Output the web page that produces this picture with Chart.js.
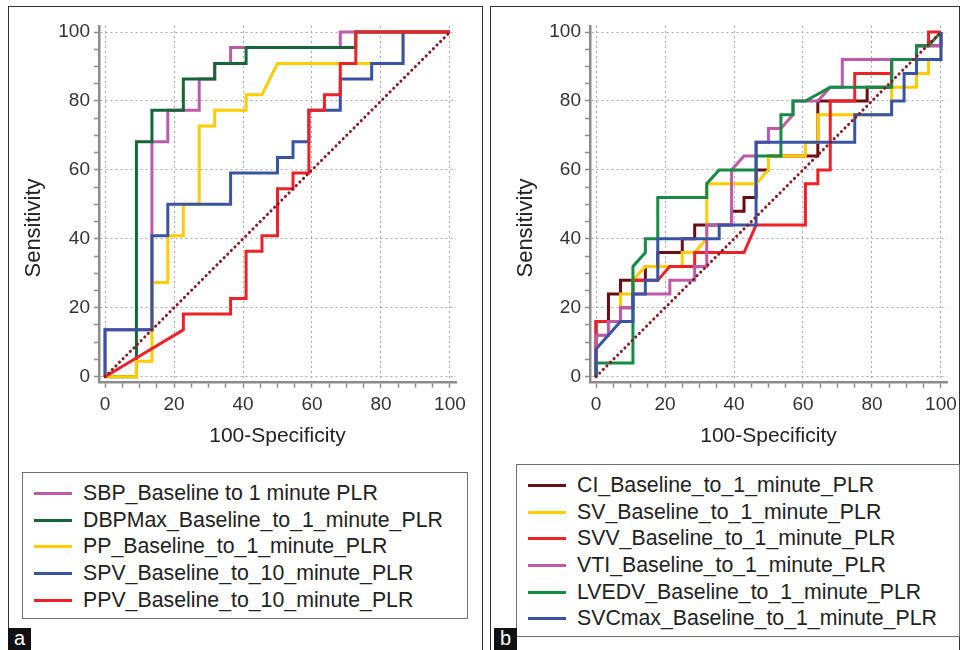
<!DOCTYPE html>
<html>
<head>
<meta charset="utf-8">
<script src="https://cdn.jsdelivr.net/npm/chart.js@4.4.1/dist/chart.umd.min.js"></script>
<style>
  body { margin: 0; background: #fff; font-family: 'Liberation Sans', Arial, sans-serif; }
  #page { position: relative; width: 964px; height: 650px; overflow: hidden; }
  .panel { position: absolute; top: 0; height: 460px; }
  .legend { position: absolute; border: 1px solid #6f6f6f; box-sizing: border-box; padding-top: 7px; color: #222; font-size: 21.3px; }
  .legend div { height: 26.7px; line-height: 26.7px; white-space: nowrap; position: relative; }
  .legend span { position: absolute; left: 11px; top: 12px; width: 38px; height: 3px; }
  .legend b { font-weight: normal; position: absolute; }
  .tag { position: absolute; background: #111; color: #fff; font-size: 20px; width: 23px; height: 22px; line-height: 20px; text-align: center; }
  .frame { position: absolute; border: 1px solid #333; box-sizing: border-box; }
  .ytitle { position: absolute; width: 200px; height: 26px; line-height: 26px; text-align: center; font-size: 22px; color: #222; transform: rotate(-90deg); }
</style>
</head>
<body>
<div id="page">
  <div class="frame" style="left:8px; top:6px; width:475px; height:660px;"></div>
  <div class="frame" style="left:490px; top:6px; width:470px; height:660px;"></div>
  <div class="panel" style="left:0; width:480px;"><canvas id="chartA" width="480" height="460"></canvas></div>
  <div class="panel" style="left:490px; width:474px;"><canvas id="chartB" width="474" height="460"></canvas></div>
  <div class="ytitle" style="left:-67px; top:215px;">Sensitivity</div>
  <div class="ytitle" style="left:425px; top:215px;">Sensitivity</div>
  <div class="legend" id="legendA" style="left:22px; top:472px; width:446px; height:147px;"></div>
  <div class="legend" id="legendB" style="left:516px; top:464px; width:444px; height:173px;"></div>
  <div class="tag" style="left:8px; top:628px;">a</div>
  <div class="tag" style="left:494px; top:628px;">b</div>
</div>
<script>
// panel a - false positive rate (100-Specificity) and sensitivity
let sbpX = [0, 0, 13.6, 13.6, 18.2, 18.2, 27.3, 27.3, 31.8, 31.8, 36.4, 36.4, 68.2, 68.2, 100]
let sbpY = [0, 13.6, 13.6, 68.2, 68.2, 77.3, 77.3, 86.4, 86.4, 90.9, 90.9, 95.5, 95.5, 100, 100]
let dbpX = [0, 9.1, 9.1, 13.6, 13.6, 22.7, 22.7, 31.8, 31.8, 40.9, 40.9, 72.7, 72.7, 100]
let dbpY = [0, 0, 68.2, 68.2, 77.3, 77.3, 86.4, 86.4, 90.9, 90.9, 95.5, 95.5, 100, 100]
let ppX = [0, 9.1, 9.1, 13.6, 13.6, 18.2, 18.2, 22.7, 22.7, 27.3, 27.3, 31.8, 31.8, 40.9, 40.9, 45.5, 50, 86.4, 86.4, 100]
let ppY = [0, 0, 4.5, 4.5, 27.3, 27.3, 40.9, 40.9, 50, 50, 72.7, 72.7, 77.3, 77.3, 81.8, 81.8, 90.9, 90.9, 100, 100]
let spvX = [0, 0, 13.6, 13.6, 18.2, 18.2, 36.4, 36.4, 50, 50, 54.5, 54.5, 59.1, 59.1, 68.2, 68.2, 77.3, 77.3, 86.4, 86.4, 100]
let spvY = [0, 13.6, 13.6, 40.9, 40.9, 50, 50, 59.1, 59.1, 63.6, 63.6, 68.2, 68.2, 77.3, 77.3, 86.4, 86.4, 90.9, 90.9, 100, 100]
let ppvX = [0, 22.7, 22.7, 36.4, 36.4, 40.9, 40.9, 45.5, 45.5, 50, 50, 54.5, 54.5, 59.1, 59.1, 63.6, 63.6, 68.2, 68.2, 72.7, 72.7, 100]
let ppvY = [0, 13.6, 18.2, 18.2, 22.7, 22.7, 36.4, 36.4, 40.9, 40.9, 54.5, 54.5, 59.1, 59.1, 77.3, 77.3, 81.8, 81.8, 90.9, 90.9, 100, 100]

// panel b
let ciX = [0, 0, 3.6, 3.6, 7.1, 7.1, 14.3, 14.3, 17.9, 17.9, 25, 25, 28.6, 28.6, 39.3, 39.3, 42.9, 42.9, 46.4, 46.4, 50, 50, 64.3, 64.3, 78.6, 78.6, 85.7, 85.7, 92.9, 92.9, 100, 100]
let ciY = [0, 16, 16, 24, 24, 28, 28, 32, 32, 36, 36, 40, 40, 44, 44, 48, 48, 52, 52, 60, 60, 64, 64, 80, 80, 84, 84, 92, 92, 96, 96, 100]
let svX = [0, 0, 3.6, 3.6, 7.1, 7.1, 10.7, 10.7, 14.3, 25, 25, 28.6, 32.1, 32.1, 46.4, 50, 50, 60.7, 60.7, 64.3, 64.3, 85.7, 85.7, 92.9, 92.9, 96.4, 96.4, 100, 100]
let svY = [0, 12, 12, 16, 16, 24, 24, 28, 32, 32, 36, 36, 40, 56, 56, 60, 64, 64, 68, 68, 76, 76, 84, 84, 88, 88, 92, 92, 100]
let svvX = [0, 0, 7.1, 7.1, 10.7, 10.7, 17.9, 21.4, 28.6, 28.6, 42.9, 46.4, 60.7, 60.7, 64.3, 64.3, 67.9, 67.9, 75, 75, 85.7, 85.7, 92.9, 92.9, 96.4, 96.4, 100]
let svvY = [0, 16, 16, 20, 20, 28, 28, 32, 32, 36, 36, 44, 44, 56, 56, 60, 60, 80, 80, 88, 88, 92, 92, 96, 96, 100, 100]
let vtiX = [0, 0, 3.6, 3.6, 7.1, 7.1, 10.7, 10.7, 21.4, 21.4, 28.6, 28.6, 32.1, 32.1, 39.3, 39.3, 42.9, 46.4, 46.4, 50, 50, 53.6, 57.1, 57.1, 64.3, 67.9, 71.4, 71.4, 92.9, 92.9, 100, 100]
let vtiY = [0, 12, 12, 16, 16, 20, 20, 24, 24, 28, 28, 32, 32, 44, 44, 60, 64, 64, 68, 68, 72, 72, 76, 80, 80, 84, 84, 92, 92, 96, 96, 100]
let lvedvX = [0, 0, 10.7, 10.7, 14.3, 14.3, 17.9, 17.9, 32.1, 32.1, 35.7, 46.4, 46.4, 53.6, 53.6, 57.1, 57.1, 60.7, 67.9, 85.7, 85.7, 92.9, 92.9, 96.4, 100]
let lvedvY = [0, 4, 4, 32, 36, 40, 40, 52, 52, 56, 60, 60, 64, 64, 76, 76, 80, 80, 84, 84, 92, 92, 96, 96, 100]
let svcX = [0, 0, 7.1, 10.7, 10.7, 14.3, 14.3, 17.9, 17.9, 35.7, 35.7, 46.4, 46.4, 75, 75, 85.7, 85.7, 89.3, 89.3, 92.9, 92.9, 100, 100]
let svcY = [0, 8, 16, 16, 24, 24, 28, 28, 40, 40, 44, 44, 68, 68, 76, 76, 80, 80, 88, 88, 92, 92, 100]

let tickValues = [0, 20, 40, 60, 80, 100]
let diagX = [0, 100]
let diagY = [0, 100]

let seriesA = [
  { label: 'SBP_Baseline to 1 minute PLR', x: sbpX, y: sbpY, color: '#bf5aa9' },
  { label: 'DBPMax_Baseline_to_1_minute_PLR', x: dbpX, y: dbpY, color: '#17663a' },
  { label: 'PP_Baseline_to_1_minute_PLR', x: ppX, y: ppY, color: '#ffcc00' },
  { label: 'SPV_Baseline_to_10_minute_PLR', x: spvX, y: spvY, color: '#3a54a5' },
  { label: 'PPV_Baseline_to_10_minute_PLR', x: ppvX, y: ppvY, color: '#ee2128' },
]
let seriesB = [
  { label: 'CI_Baseline_to_1_minute_PLR', x: ciX, y: ciY, color: '#6b0d15' },
  { label: 'SV_Baseline_to_1_minute_PLR', x: svX, y: svY, color: '#ffcc00' },
  { label: 'SVV_Baseline_to_1_minute_PLR', x: svvX, y: svvY, color: '#ee2128' },
  { label: 'VTI_Baseline_to_1_minute_PLR', x: vtiX, y: vtiY, color: '#bf5aa9' },
  { label: 'LVEDV_Baseline_to_1_minute_PLR', x: lvedvX, y: lvedvY, color: '#178a45' },
  { label: 'SVCmax_Baseline_to_1_minute_PLR', x: svcX, y: svcY, color: '#3a54a5' },
]

function toPoints(xs, ys) {
  let pts = []
  for (let i = 0; i < xs.length; i++) {
    pts.push({ x: xs[i], y: ys[i] })
  }
  return pts
}

// ticks every 5, labels only every 20
function minorTicks(scale) {
  let t = []
  for (let v = 0; v <= 100; v += 5) t.push({ value: v })
  scale.ticks = t
}

function axis(titleText, fixedSize, horizontal) {
  return {
    type: 'linear',
    min: -1.75,
    max: 101.75,
    afterBuildTicks: minorTicks,
    afterFit: (scale) => {
      if (horizontal) scale.height = fixedSize
      else scale.width = fixedSize
    },
    border: { display: true, color: '#8c8c8c', width: 2.5, dash: [2, 3] },
    grid: {
      color: (c) => (tickValues.includes(c.tick.value) ? '#a8a8a8' : 'rgba(0,0,0,0)'),
      lineWidth: 1,
      tickColor: '#8c8c8c',
      tickLength: 5,
      tickWidth: 1.5,
    },
    ticks: {
      autoSkip: false,
      maxRotation: 0,
      padding: horizontal ? 6 : 4,
      color: '#333',
      font: { family: "'Liberation Sans', Arial, sans-serif", size: 19 },
      callback: (v) => (tickValues.includes(v) ? v : ''),
    },
    title: {
      display: horizontal,
      text: titleText,
      color: '#222',
      font: { family: "'Liberation Sans', Arial, sans-serif", size: 21 },
      padding: { top: 0, bottom: 11 },
    },
  }
}

function makeChart(canvasId, series, padRight, yWidth) {
  let datasets = []
  for (let i = 0; i < series.length; i++) {
    datasets.push({
      label: series[i].label,
      data: toPoints(series[i].x, series[i].y),
      borderColor: series[i].color,
      borderWidth: 3,
      pointRadius: 0,
      tension: 0,
      order: series.length - i,
    })
  }
  datasets.push({
    label: 'diagonal',
    data: toPoints(diagX, diagY),
    borderColor: '#8a1a1f',
    borderWidth: 3,
    borderDash: [0.1, 5],
    borderCapStyle: 'round',
    pointRadius: 0,
    order: 0,
  })

  new Chart(document.getElementById(canvasId), {
    type: 'line',
    data: { datasets: datasets },
    options: {
      responsive: false,
      animation: false,
      layout: { padding: { top: 26, right: padRight, bottom: 0, left: 0 } },
      plugins: { legend: { display: false }, tooltip: { enabled: false } },
      scales: {
        x: axis('100-Specificity', 77.3, true),
        y: axis('Sensitivity', yWidth, false),
      },
    },
  })
}

function makeLegend(id, series) {
  let box = document.getElementById(id)
  for (let i = 0; i < series.length; i++) {
    let row = document.createElement('div')
    row.innerHTML = '<span style="background:' + series[i].color + '"></span><b style="left:60px">' + series[i].label + '</b>'
    box.appendChild(row)
  }
}

makeChart('chartA', seriesA, 24, 99)
makeChart('chartB', seriesB, 17, 100)
makeLegend('legendA', seriesA)
makeLegend('legendB', seriesB)
</script>
</body>
</html>
